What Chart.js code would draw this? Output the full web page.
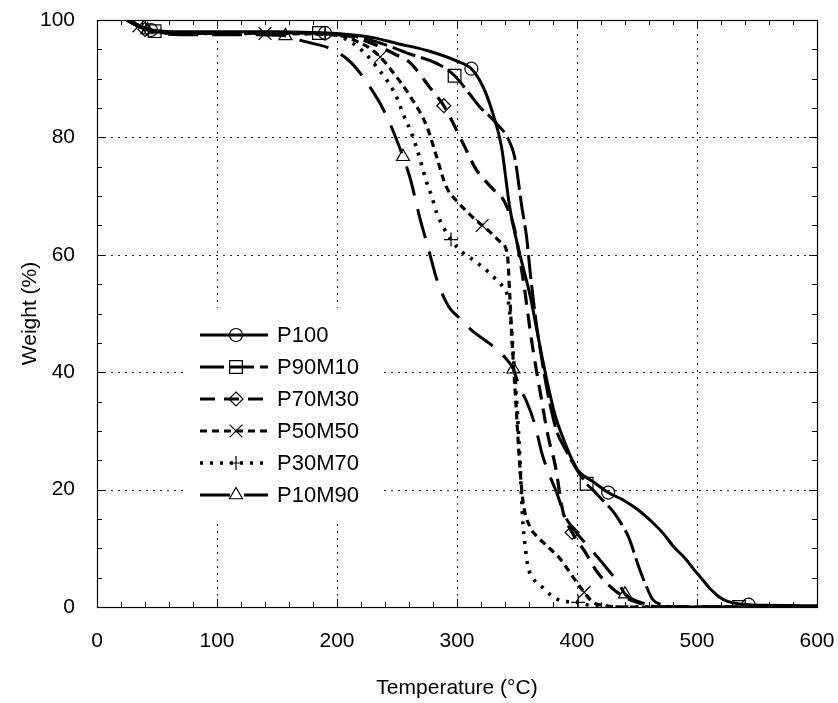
<!DOCTYPE html>
<html><head><meta charset="utf-8">
<script src="https://cdn.jsdelivr.net/npm/chart.js@4/dist/chart.umd.min.js"></script>
<style>html,body{margin:0;padding:0;background:#fff}</style>
</head><body>
<canvas id="c" width="838" height="703"></canvas>
<script>
// ---- data (temperature °C, weight %) ----
const seriesNames = ['P100','P90M10','P70M30','P50M50','P30M70','P10M90'];

const p100T = [25,32,40,45,55,70,100,150,190,200,230,250,275,300,312,322,330,337,344,352,361,368,375,382,388,395,402,413,426,437,450,463,472,480,490,497,504,511,518,525,536,543,560,600];
const p100W = [100,99.3,98.6,98.3,98.1,98,98,98,97.8,97.7,97,96,94.8,93,91.7,88.5,84,78.5,68,60.4,53,45.6,38.5,32.5,29,25.5,23,21.4,19.5,18.4,16.7,14.4,12.5,10.4,8.3,6.5,4.8,3.1,1.8,1.0,0.5,0.4,0.3,0.2];
const p100Marks = [45,190,312,426,543];

const p90T = [25,32,40,48,60,100,150,185,200,220,240,258,286,298,312,319,330,343,348,354,358,361,365,370,376,383,390,398,408,413,420,430,436,443,452,457,463,470,480,535,600];
const p90W = [100,99.2,98.5,98.1,97.8,97.8,97.8,97.8,97.5,97,95.8,94.4,92.3,90.5,87,85.2,83,79.6,76.7,68.2,63,57,50,43,36,30,27,24,21,20,18.5,16.3,14.5,11.9,6.5,3.9,1.3,0.4,0,0,0];
const p90Marks = [48,185,298,408,535];

const p70T = [25,32,40,50,70,100,150,200,215,235,250,261,277,289,305,316,324,331,336,342,348,352,356,362,369,376,382,388,396,407,415,425,437,450,460,470,600];
const p70W = [100,99.2,98.4,98,97.8,97.8,97.8,97.6,97,95.5,94,92.7,88.6,85.4,79,74.5,72.5,71,70.2,68,64.3,59.7,54.6,45.6,37,29,24,16.5,12.7,9.3,6.5,4,2,0.8,0.2,0,0];
const p70Marks = [40,289,396];

const p50T = [25,30,35,45,60,100,140,150,200,215,225,236,247,261,275,283,291,301,311,321,327,337,342,344,346,349,352,355,361,368,375,386,396,406,413,425,440,600];
const p50W = [100,99.5,99,98.2,97.8,97.7,97.7,97.7,97.4,96.5,95.5,93.7,91,87,81.8,76.7,71.6,68.9,66.8,65,64,62,60,53,45,35,25,18,13.6,11.8,10.4,8.2,5.3,2.5,0.85,0.2,0,0];
const p50Marks = [35,140,236,321,406];

const p30T = [25,30,38,45,60,100,150,190,200,211,222,237,244,250,255,261,266,270,274,279,283,295,304,313,322,330,338,342,345,348,350,352,353.5,355,357,359,363,371,379,388,401,410,420,600];
const p30W = [100,99.5,98.8,98.2,97.8,97.7,97.7,97.6,97.4,96.3,94.6,91,89,86.7,84,81.3,78.4,75.7,72.8,69.9,67.2,62.6,60.5,59.2,57.8,56.3,54.6,53,48,40,34,27,20,14,10,7,5,3.4,1.9,1.0,0.8,0.3,0,0];
const p30Marks = [38,190,295,401];

const p10T = [25,30,42,50,70,100,150,157,172,197,212,230,241,255,261,269,275,284,293,303,313,327,340,347,352,358,365,371,378,383,390,397,409,422,436,440,450,463,475,600];
const p10W = [100,99.4,98.3,97.8,97.5,97.5,97.4,97.3,96.4,94.9,92.7,87.8,83.8,76.7,73,66.3,61.9,55.3,51.2,49,47,44.9,42.5,40.5,37.5,35,31,26,22,19.5,15.5,13.3,10.4,7.3,3.6,2.2,1,0.3,0,0];
const p10Marks = [42,157,255,347,440];

const xTickStep = 100, yTickStep = 20;

// ---- styles ----
const FONT = "'Liberation Sans', Arial, sans-serif";
const styles = [
  {dash: [],      width: 3,   point: 'circle',   r: 6.5},
  {dash: [24,6],  width: 3,   point: 'rect',     r: 9},
  {dash: [15,9],  width: 3.2, point: 'rectRot',  r: 7},
  {dash: [7,5],   width: 3.2, point: 'crossRot', r: 9},
  {dash: [3,7],   width: 3.6, point: 'cross',    r: 7},
  {dash: [30,14], width: 3,   point: 'triangle', r: 7.5}
];
const Ts = [p100T,p90T,p70T,p50T,p30T,p10T];
const Ws = [p100W,p90W,p70W,p50W,p30W,p10W];
const Ms = [p100Marks,p90Marks,p70Marks,p50Marks,p30Marks,p10Marks];

const datasets = seriesNames.map((name,i)=>({
  label: name,
  data: Ts[i].map((t,k)=>({x:t, y:Ws[i][k]})),
  borderColor: '#000',
  backgroundColor: 'rgba(0,0,0,0)',
  borderWidth: styles[i].width,
  borderDash: styles[i].dash,
  cubicInterpolationMode: 'monotone',
  pointStyle: styles[i].point,
  pointBorderColor: '#000',
  pointBackgroundColor: 'rgba(0,0,0,0)',
  pointBorderWidth: 1.2,
  pointRadius: (c)=> (c.raw && Ms[i].includes(c.raw.x)) ? styles[i].r : 0,
  pointHoverRadius: 0,
  fill: false
}));

function drawMarker(ctx, style, x, y, r){
  ctx.beginPath();
  if (style==='circle'){ ctx.arc(x,y,r,0,Math.PI*2); }
  else if (style==='rect'){ const s=r*Math.SQRT1_2; ctx.rect(x-s,y-s,2*s,2*s); }
  else if (style==='rectRot'){ ctx.moveTo(x,y-r); ctx.lineTo(x+r,y); ctx.lineTo(x,y+r); ctx.lineTo(x-r,y); ctx.closePath(); }
  else if (style==='crossRot'){ const s=r*Math.SQRT1_2; ctx.moveTo(x-s,y-s); ctx.lineTo(x+s,y+s); ctx.moveTo(x-s,y+s); ctx.lineTo(x+s,y-s); }
  else if (style==='cross'){ ctx.moveTo(x-r,y); ctx.lineTo(x+r,y); ctx.moveTo(x,y-r); ctx.lineTo(x,y+r); }
  else if (style==='triangle'){
    for (let k=0;k<3;k++){ const a=-Math.PI/2+k*2*Math.PI/3; const px=x+Math.cos(a)*r, py=y+Math.sin(a)*r; if(k) ctx.lineTo(px,py); else ctx.moveTo(px,py); }
    ctx.closePath();
  }
  ctx.stroke();
}

const decor = {
  id: 'decor',
  beforeDatasetsDraw(chart){
    const {ctx, chartArea:a, scales:{x,y}} = chart;
    ctx.save();
    // dotted grid
    ctx.strokeStyle = '#222'; ctx.lineWidth = 1; ctx.setLineDash([2,5]);
    ctx.beginPath();
    for (let v=x.min+xTickStep; v<x.max; v+=xTickStep){ const px=Math.round(x.getPixelForValue(v))+0.5; ctx.moveTo(px,a.top); ctx.lineTo(px,a.bottom); }
    for (let v=y.min+yTickStep; v<y.max; v+=yTickStep){ const py=Math.round(y.getPixelForValue(v))+0.5; ctx.moveTo(a.left,py); ctx.lineTo(a.right,py); }
    ctx.stroke();
    ctx.setLineDash([]);
    // inward ticks on all four sides
    ctx.strokeStyle = '#000'; ctx.beginPath();
    for (let v=x.min; v<=x.max; v+=xTickStep/5){ const px=Math.round(x.getPixelForValue(v))+0.5; const L=(v%xTickStep===0)?8:5;
      ctx.moveTo(px,a.bottom); ctx.lineTo(px,a.bottom-L); ctx.moveTo(px,a.top); ctx.lineTo(px,a.top+L); }
    for (let v=y.min; v<=y.max; v+=yTickStep/4){ const py=Math.round(y.getPixelForValue(v))+0.5; const L=(v%yTickStep===0)?8:5;
      ctx.moveTo(a.left,py); ctx.lineTo(a.left+L,py); ctx.moveTo(a.right,py); ctx.lineTo(a.right-L,py); }
    ctx.stroke();
    ctx.lineWidth = 1.2;
    ctx.strokeRect(Math.round(a.left)+0.5, Math.round(a.top)+0.5, Math.round(a.width), Math.round(a.height));
    // legend
    ctx.fillStyle = '#fff';
    ctx.fillRect(184, 308, 200, 214);
    chart.data.datasets.forEach((ds,i)=>{
      const yy = 335 + 32*i;
      ctx.strokeStyle='#000';
      ctx.lineWidth = styles[i].width; ctx.setLineDash(styles[i].dash);
      ctx.beginPath(); ctx.moveTo(200,yy); ctx.lineTo(268,yy); ctx.stroke();
      ctx.setLineDash([]); ctx.lineWidth = 1.2;
      drawMarker(ctx, styles[i].point, 236, yy, styles[i].r);
      ctx.fillStyle='#000'; ctx.font = '22px ' + FONT; ctx.textBaseline='middle'; ctx.textAlign='left';
      ctx.fillText(ds.label, 277, yy+1);
    });
    ctx.restore();
  }
};

function zeroPad(s){ s.paddingTop = 0; s.paddingBottom = 0; s.paddingLeft = 0; s.paddingRight = 0; }

new Chart(document.getElementById('c'), {
  type: 'line',
  data: { datasets },
  options: {
    responsive: false,
    animation: false,
    devicePixelRatio: 1,
    layout: { padding: {left:0, right:21, top:20, bottom:0} },
    plugins: { legend: {display:false}, tooltip: {enabled:false} },
    scales: {
      x: {
        type: 'linear', min: 0, max: 600,
        ticks: { stepSize: xTickStep, color:'#000', font:{size:21, family:FONT}, padding: 22, maxRotation:0 },
        grid: { display:false, drawTicks:false },
        border: { display:false },
        title: { display:true, text:'Temperature (°C)', color:'#000', font:{size:21, family:FONT}, padding:{top:0,bottom:2} },
        afterFit(s){ s.height = 96; zeroPad(s); }
      },
      y: {
        min: 0, max: 100,
        ticks: { stepSize: yTickStep, color:'#000', font:{size:21, family:FONT}, padding: 22 },
        grid: { display:false, drawTicks:false },
        border: { display:false },
        title: { display:true, text:'Weight (%)', color:'#000', font:{size:21, family:FONT}, padding:{top:18,bottom:0} },
        afterFit(s){ s.width = 97; zeroPad(s); }
      }
    }
  },
  plugins: [decor]
});
</script>
</body></html>
